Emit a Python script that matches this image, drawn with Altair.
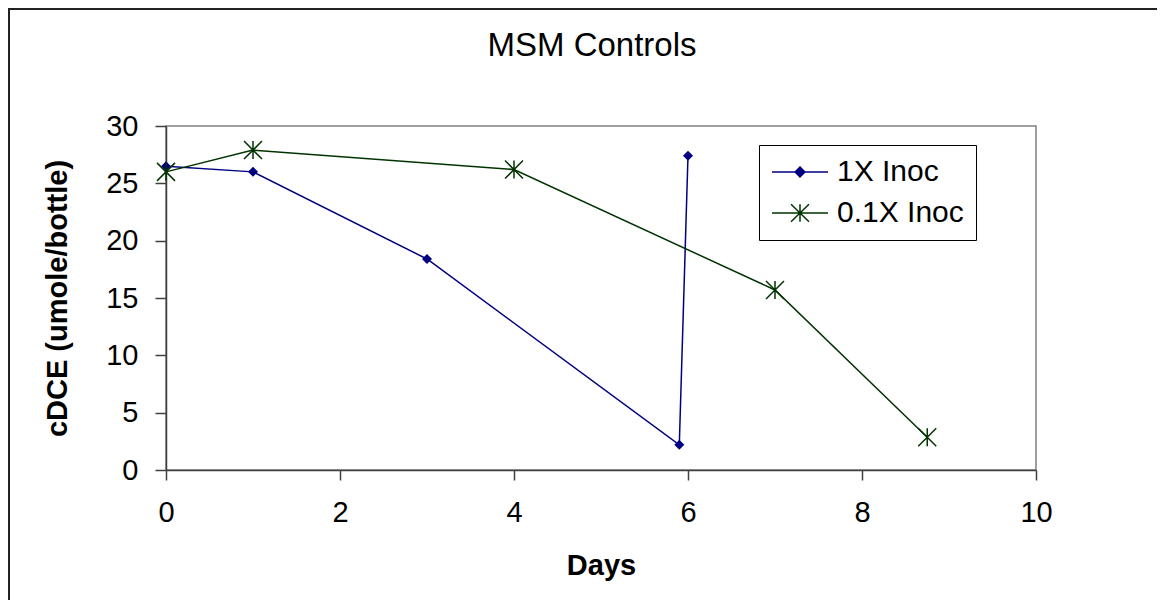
import altair as alt
import pandas as pd

series_names = ["1X Inoc", "0.1X Inoc"]
days_1x = [0.0, 1.0, 3.0, 5.9, 6.0]
cdce_1x = [26.5, 26.0, 18.4, 2.2, 27.4]
days_01x = [0.0, 1.0, 4.0, 7.0, 8.75]
cdce_01x = [26.0, 27.9, 26.2, 15.7, 2.85]
x_ticks = [0, 2, 4, 6, 8, 10]
y_ticks = [0, 5, 10, 15, 20, 25, 30]
colors = ["#000080", "#003300"]
chart_title = "MSM Controls"

rows = []
for i, (d, v) in enumerate(zip(days_1x, cdce_1x)):
    rows.append({"series": series_names[0], "day": d, "cdce": v, "idx": i})
for i, (d, v) in enumerate(zip(days_01x, cdce_01x)):
    rows.append({"series": series_names[1], "day": d, "cdce": v, "idx": i})
df = pd.DataFrame(rows)

W, H = 870, 344
FONT = "Liberation Sans"

ASTER = "M-1,-1L1,1M-1,1L1,-1M0,-1L0,1"
LEG_D = ("M-1,0L3,0M1,-0.35L1.35,0L1,0.35L0.65,0Z"
         "M1,-0.24L1.24,0L1,0.24L0.76,0ZM1,-0.12L1.12,0L1,0.12L0.88,0Z")
LEG_A = "M-1,0L3,0M0.36,-0.62L1.64,0.62M0.36,0.62L1.64,-0.62M1,-0.62L1,0.62"

xs = alt.Scale(domain=[0, 10], nice=False, zero=False)
ys = alt.Scale(domain=[0, 30], nice=False)

x_enc = alt.X("day:Q", scale=xs, title="Days",
              axis=alt.Axis(values=x_ticks, labelFontSize=29, labelFont=FONT, labelColor="black",
                            tickSize=10, tickColor="#404040", domainColor="#404040", domainWidth=1.5,
                            tickWidth=1.5, labelPadding=18, grid=False, titleFont=FONT,
                            titleFontSize=29, titleFontWeight="bold", titleColor="black",
                            titlePadding=24, labelFlush=False))
y_enc = alt.Y("cdce:Q", scale=ys, title="cDCE (umole/bottle)",
              axis=alt.Axis(values=y_ticks, labelFontSize=29, labelFont=FONT, labelColor="black",
                            tickSize=11, tickColor="#404040", domainColor="#404040", domainWidth=1.5,
                            tickWidth=1.5, labelPadding=17, grid=False, titleFont=FONT,
                            titleFontSize=29, titleFontWeight="bold", titleColor="black",
                            titlePadding=33, labelFlush=False))

base = alt.Chart(df)

lines = base.mark_line(strokeWidth=1.5).encode(
    x=x_enc, y=y_enc,
    color=alt.Color("series:N", scale=alt.Scale(domain=series_names, range=colors), legend=None),
    order="idx:Q",
)

pts_d = base.transform_filter(alt.datum.series == series_names[0]).mark_point(
    shape="diamond", filled=True, size=100, color=colors[0], opacity=1
).encode(x=x_enc, y=y_enc)

pts_a = base.transform_filter(alt.datum.series == series_names[1]).mark_point(
    shape=ASTER, filled=False, size=324, strokeWidth=1.5, color=colors[1], opacity=1
).encode(x=x_enc, y=y_enc)

leg_props = dict(orient="none", legendX=593, legendY=19, strokeColor="black", padding=12,
                 labelFont=FONT, labelFontSize=30, labelColor="black", symbolSize=784,
                 symbolStrokeWidth=1.5, labelOffset=36, rowPadding=11, title=None,
                 fillColor="white", symbolOpacity=1)

# legend-only layer: its marks are shifted far off-canvas, only the legend is seen
legend_layer = base.mark_point(filled=False, strokeWidth=1.5, opacity=1,
                               xOffset=-5000, yOffset=-5000, clip=True).encode(
    x=x_enc, y=y_enc,
    shape=alt.Shape("series:N", scale=alt.Scale(domain=series_names, range=[LEG_D, LEG_A]),
                    legend=alt.Legend(**leg_props)),
    stroke=alt.Stroke("series:N", scale=alt.Scale(domain=series_names, range=colors),
                      legend=alt.Legend(**leg_props)),
)

one = alt.Chart(pd.DataFrame({"label": [chart_title]}))
title_mark = one.mark_text(font=FONT, fontSize=33, color="black", align="center",
                           baseline="alphabetic").encode(
    x=alt.value(W / 2 - 9), y=alt.value(-70), text="label:N")
frame_left = one.mark_rule(color="#222222", strokeWidth=2).encode(
    x=alt.value(-157), y=alt.value(-118), y2=alt.value(H + 130))
frame_top = one.mark_rule(color="#222222", strokeWidth=2).encode(
    x=alt.value(-158), x2=alt.value(W + 121), y=alt.value(-117))

chart = alt.layer(legend_layer, lines, pts_d, pts_a, title_mark, frame_left, frame_top).properties(
    width=W, height=H,
    autosize=alt.AutoSizeParams(type="none"),
    padding={"left": 158, "top": 118, "right": 121, "bottom": 130},
    background="white",
).configure_view(stroke="#808080", strokeWidth=1.5)

chart.save("out.html", embed_options={"renderer": "svg", "actions": False})
